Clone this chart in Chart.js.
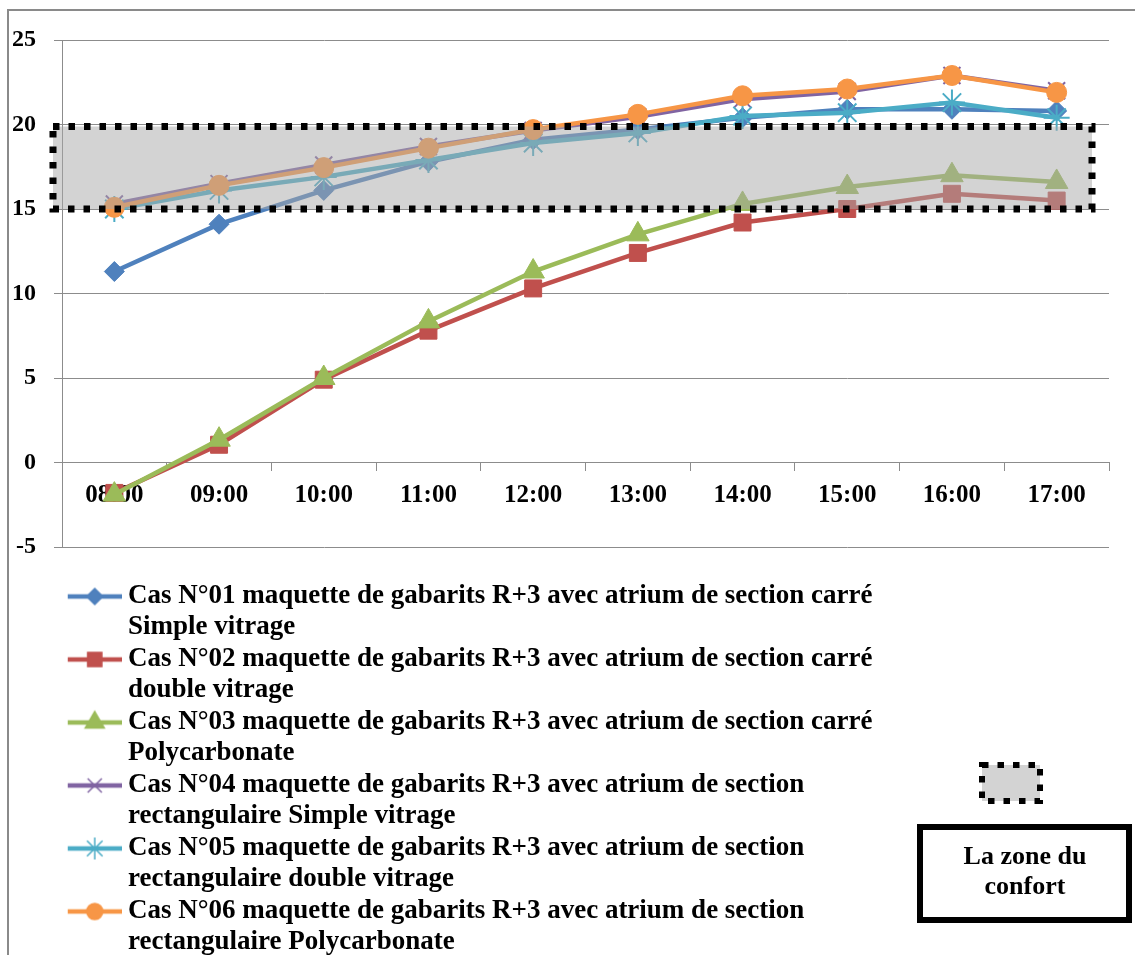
<!DOCTYPE html>
<html>
<head>
<meta charset="utf-8">
<script src="https://cdn.jsdelivr.net/npm/chart.js@4.4.1/dist/chart.umd.min.js"></script>
<style>
    html, body { margin: 0; padding: 0; background: #fff; }
    #wrap { width: 1135px; height: 955px; }
</style>
</head>
<body>
<div id="wrap"><canvas id="myLineChart" width="1135" height="955"></canvas></div>
<script>
const hours = ['08:00', '09:00', '10:00', '11:00', '12:00', '13:00', '14:00', '15:00', '16:00', '17:00'];

const cas01 = [11.3, 14.1, 16.1, 17.8, 19.1, 19.7, 20.4, 20.9, 20.9, 20.8];
const cas02 = [-1.8, 1.05, 4.9, 7.8, 10.3, 12.4, 14.2, 15.0, 15.9, 15.5];
const cas03 = [-1.9, 1.35, 5.0, 8.35, 11.3, 13.5, 15.3, 16.3, 17.0, 16.6];
const cas04 = [15.3, 16.5, 17.6, 18.7, 19.65, 20.45, 21.5, 21.95, 22.9, 22.0];
const cas05 = [15.0, 16.1, 16.9, 17.9, 18.9, 19.5, 20.5, 20.7, 21.3, 20.4];
const cas06 = [15.1, 16.4, 17.45, 18.6, 19.7, 20.6, 21.7, 22.1, 22.9, 21.9];

const yTicks = { min: -5, max: 25, step: 5 };
const zoneLow = 15;
const zoneHigh = 20;

const legendText = [
    ['Cas N°01 maquette de gabarits R+3 avec atrium de section carré', 'Simple vitrage'],
    ['Cas N°02 maquette de gabarits R+3 avec atrium de section carré', 'double vitrage'],
    ['Cas N°03 maquette de gabarits R+3 avec atrium de section carré', 'Polycarbonate'],
    ['Cas N°04 maquette de gabarits R+3 avec atrium de section', 'rectangulaire Simple vitrage'],
    ['Cas N°05 maquette de gabarits R+3 avec atrium de section', 'rectangulaire double vitrage'],
    ['Cas N°06 maquette de gabarits R+3 avec atrium de section', 'rectangulaire Polycarbonate']
];
const zoneLabel = ['La zone du', 'confort'];

const seriesValues = [cas01, cas02, cas03, cas04, cas05, cas06];
const colors = ['#4F81BD', '#C0504D', '#9BBB59', '#8064A2', '#4BACC6', '#F79646'];
const markers = ['rectRot', 'rect', 'triangle', 'crossRot', 'star', 'circle'];
const markerSize = [10, 12, 13, 12, 13, 10];
const legendMarkerSize = [8, 10, 11, 10, 11, 8];

Chart.defaults.font.family = '"Liberation Serif", "Times New Roman", serif';
Chart.defaults.color = '#000';

// small canvas with line + marker, used as the legend symbol
function makeIcon(i) {
    const c = document.createElement('canvas');
    c.width = 60;
    c.height = 28;
    const g = c.getContext('2d');
    g.strokeStyle = colors[i];
    g.lineWidth = 4.5;
    g.beginPath();
    g.moveTo(6, 14);
    g.lineTo(60, 14);
    g.stroke();
    g.fillStyle = colors[i];
    g.lineWidth = 1.5;
    if (Chart.helpers && Chart.helpers.drawPoint) {
        Chart.helpers.drawPoint(g, { pointStyle: markers[i], radius: legendMarkerSize[i], borderWidth: 1.5, rotation: 0 }, 33, 14);
    }
    return c;
}
const legendIcons = colors.map((c, i) => makeIcon(i));

const comfortZone = {
    id: 'comfortZone',
    afterLayout(chart) {
        // let the y tick labels spill left of the axis box without being clipped
        chart.scales.y.left = 0;
        // and let the legend's last line run to the bottom edge
        chart.legend.bottom = chart.height + 20;
        chart.legend.height = chart.legend.bottom - chart.legend.top;
    },
    afterDatasetsDraw(chart) {
        const { ctx, chartArea, scales } = chart;
        const top = scales.y.getPixelForValue(zoneHigh) + 2;
        const bottom = scales.y.getPixelForValue(zoneLow);
        const left = chartArea.left - 9;
        const right = chartArea.right - 17;
        ctx.save();
        ctx.fillStyle = 'rgba(167,167,167,0.5)';
        ctx.fillRect(left, top, right - left, bottom - top);
        ctx.strokeStyle = '#000';
        ctx.lineWidth = 7;
        ctx.setLineDash([6.5, 9]);
        ctx.strokeRect(left, top, right - left, bottom - top);
        ctx.restore();
    }
};

const frameAndKey = {
    id: 'frameAndKey',
    beforeDraw(chart) {
        const ctx = chart.ctx;
        ctx.save();
        ctx.strokeStyle = '#8a8a8a';
        ctx.lineWidth = 2;
        ctx.strokeRect(8, 10, chart.width + 20, chart.height + 20);
        ctx.restore();
    },
    afterDraw(chart) {
        const ctx = chart.ctx;
        ctx.save();
        // swatch of the comfort zone
        ctx.fillStyle = '#d3d3d3';
        ctx.fillRect(982, 765, 58, 36);
        ctx.strokeStyle = '#000';
        ctx.lineWidth = 6;
        ctx.setLineDash([6.5, 9]);
        ctx.strokeRect(982, 765, 58, 36);
        ctx.setLineDash([]);
        // framed caption
        ctx.lineWidth = 6;
        ctx.strokeRect(920, 827, 209, 93);
        ctx.fillStyle = '#000';
        ctx.font = 'bold 26px "Liberation Serif"';
        ctx.textAlign = 'center';
        ctx.textBaseline = 'middle';
        ctx.fillText(zoneLabel[0], 1025, 857);
        ctx.fillText(zoneLabel[1], 1025, 887);
        ctx.restore();
    }
};

const ctx = document.getElementById('myLineChart');

new Chart(ctx, {
    type: 'line',
    data: {
        labels: hours,
        datasets: seriesValues.map((vals, i) => ({
            label: legendText[i].join(' '),
            data: vals,
            borderColor: colors[i],
            backgroundColor: colors[i],
            borderWidth: 4.5,
            pointStyle: markers[i],
            pointRadius: markerSize[i],
            pointBackgroundColor: colors[i],
            pointBorderColor: colors[i],
            pointBorderWidth: (markers[i] === 'crossRot' || markers[i] === 'star') ? 2 : 1,
            tension: 0,
            fill: false,
            order: seriesValues.length - 1 - i
        }))
    },
    options: {
        responsive: false,
        animation: false,
        layout: { padding: { top: 40, right: 26, bottom: 20, left: 33 } },
        scales: {
            x: {
                position: { y: 0 },
                offset: true,
                ticks: {
                    color: '#000',
                    padding: 10,
                    maxRotation: 0,
                    autoSkip: false,
                    font: { size: 25, weight: 'bold' }
                },
                grid: { offset: true, drawOnChartArea: false, tickLength: 8, color: '#8c8c8c' },
                border: { color: '#8c8c8c', width: 1 },
                afterFit: function (scale) { scale.height = 0; }
            },
            y: {
                min: yTicks.min,
                max: yTicks.max,
                ticks: {
                    stepSize: yTicks.step,
                    color: '#000',
                    padding: 18,
                    font: { size: 24, weight: 'bold' }
                },
                grid: { color: '#8c8c8c', lineWidth: 1, tickLength: 8 },
                border: { color: '#8c8c8c', width: 1 },
                afterFit: function (scale) { scale.width = 29; }
            }
        },
        plugins: {
            tooltip: { enabled: false },
            legend: {
                position: 'bottom',
                align: 'start',
                labels: {
                    usePointStyle: true,
                    pointStyleWidth: 45.5,
                    padding: 36,
                    color: '#000',
                    font: { size: 27, weight: 'bold', lineHeight: '31px' },
                    sort: (a, b) => a.datasetIndex - b.datasetIndex,
                    generateLabels: function (chart) {
                        const items = Chart.defaults.plugins.legend.labels.generateLabels(chart);
                        items.forEach(item => {
                            item.text = legendText[item.datasetIndex];
                            item.pointStyle = legendIcons[item.datasetIndex];
                        });
                        return items;
                    }
                }
            }
        }
    },
    plugins: [comfortZone, frameAndKey]
});
</script>
</body>
</html>
